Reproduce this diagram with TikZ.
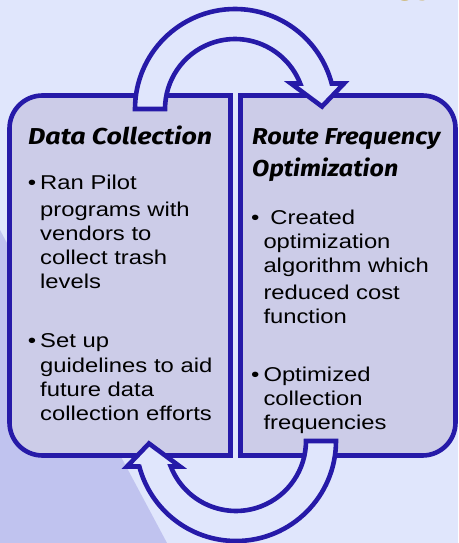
\documentclass[tikz,border=0pt]{standalone}
\usepackage{fontspec}
\usepackage{graphicx}
\usetikzlibrary{calc}
\newfontfamily\bodyfont{Liberation Sans}[FakeStretch=1.19]
\newfontfamily\headfont{Fira Sans}
\newfontfamily\titlefont{Liberation Sans}
\definecolor{bglight}{RGB}{224,230,252}
\definecolor{bgdark}{RGB}{192,195,239}
\definecolor{boxfill}{RGB}{204,204,232}
\definecolor{edge}{RGB}{38,26,168}
\definecolor{gold}{RGB}{190,145,10}
\newcommand\fitw[2]{\resizebox{#1}{\height}{#2}}
\tikzset{
  panel/.style={fill=boxfill, draw=edge, line width=4.6pt, line join=miter},
  blockarrow/.style={fill=bglight, draw=edge, line width=4.6pt, line join=miter, miter limit=10},
  head/.style={font=\headfont\bfseries\itshape\fontsize{23}{28}\selectfont, inner sep=0pt, anchor=base west},
  body/.style={font=\bodyfont\fontsize{20}{24}\selectfont, inner sep=0pt, anchor=base west, text width=200pt, align=left}
}
\begin{document}
\begin{tikzpicture}[x=1pt,y=1pt]
\useasboundingbox (0,0) rectangle (458,-543);
% background
\fill[bglight] (0,0) rectangle (458,-543);
\fill[bgdark] (0,-230) -- (167,-543) -- (0,-543) -- cycle;
% partial gold title at top right
\begin{scope}
\clip (0,0) rectangle (458,-543);
\node[font=\titlefont\bfseries\fontsize{40}{44}\selectfont, text=gold, inner sep=0pt, anchor=base west] (title) at (393,7) {gy};
\end{scope}
% panels
\draw[panel] (230.5,-95.5) -- (42.5,-95.5) arc[start angle=90,end angle=180,radius=33]
  -- (9.5,-422.5) arc[start angle=180,end angle=270,radius=33] -- (230.5,-455.5) -- cycle;
\draw[panel] (240.5,-95.5) -- (422.5,-95.5) arc[start angle=90,end angle=0,radius=33]
  -- (455.5,-422.5) arc[start angle=0,end angle=-90,radius=33] -- (240.5,-455.5) -- cycle;
% circular block arrows
\coordinate (c1) at (235,-109);
\coordinate (c2) at (236,-441);
\draw[blockarrow] ($(c1)+(-100,0)$) arc[start angle=180,end angle=14.8,radius=100]
  -- ($(c1)+(109,25.5)$) -- ($(c1)+(87,2.5)$) -- ($(c1)+(56,25.5)$) -- ($(c1)+(65.2,25.5)$)
  arc[start angle=21.4,end angle=180,radius=70] -- cycle;
\draw[blockarrow] ($(c2)+(100,0)$) arc[start angle=0,end angle=-165.2,radius=100]
  -- ($(c2)+(-109,-25.5)$) -- ($(c2)+(-87,-2.5)$) -- ($(c2)+(-56,-25.5)$) -- ($(c2)+(-65.2,-25.5)$)
  arc[start angle=-158.6,end angle=0,radius=70] -- cycle;
% headings
\node[head] (h1) at (28,-144) {\fitw{184pt}{Data Collection}};
\node[head] (h2) at (252,-144) {\fitw{188pt}{Route Frequency}};
\node[head] (h3) at (252,-176.7) {\fitw{146pt}{Optimization}};
% body text
\node[body] (l1) at (40,-189.3) {\noindent\llap{•\hspace{4pt}}Ran Pilot\\[3pt] programs with\\ vendors to\\ collect trash\\ levels};
\node[body] (l2) at (40,-347.7) {\baselineskip=24.4pt\noindent\llap{•\hspace{4pt}}Set up\\ guidelines to aid\\ future data\\ collection efforts};
\node[body] (r1) at (263.3,-224.3) {\noindent\llap{•\hspace{4pt}}\hspace*{7pt}Created\\ optimization\\ algorithm which\\[3pt] reduced cost\\ function};
\node[body] (r2) at (263.3,-381.7) {\baselineskip=23.8pt\noindent\llap{•\hspace{4pt}}Optimized\\ collection\\ frequencies};
\end{tikzpicture}
\end{document}
